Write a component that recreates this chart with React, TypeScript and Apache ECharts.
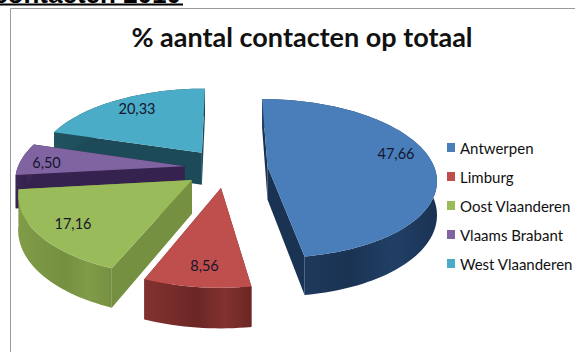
import React, { useEffect, useRef } from "react";
import * as echarts from "echarts";

const titleText = "% aantal contacten op totaal";
const captionText = "contacten 2010";
const categories = ["Antwerpen", "Limburg", "Oost Vlaanderen", "Vlaams Brabant", "West Vlaanderen"];
const values = [47.66, 8.56, 17.16, 6.5, 20.33];
const topColors = ["#4a7ebb", "#bf4f4c", "#9abb59", "#8064a2", "#4aacc6"];
const sideDark = ["#1a3353", "#6b2725", "#759040", "#36224f", "#1c4a58"];
const sideLight = ["#213f66", "#823230", "#809c48", "#3c2855", "#205260"];
const drawLayer = [6, 5, 4, 3, 2];
const labelPos = [[396, 153], [204.5, 265], [73, 223], [46.5, 162], [137, 108]];

const cx = 226, cy = 168, rx = 167, ry = 78, persp = 0.15, depth = 33, explode = 0.25;
const total = values.reduce((a, b) => a + b, 0);
const starts = values.map((_, i) => values.slice(0, i).reduce((a, b) => a + b, 0));

function project(X: number, Y: number, drop: number) {
  const s = 1 / (1 + persp * Y);
  return [cx + rx * X * s, cy - ry * Y * s + drop * s];
}

function renderSlice(i: number) {
  const a0 = (starts[i] / total) * Math.PI * 2;
  const a1 = ((starts[i] + values[i]) / total) * Math.PI * 2;
  const mid = (a0 + a1) / 2;
  const ox = Math.sin(mid) * explode;
  const oy = Math.cos(mid) * explode;
  const n = Math.max(4, Math.ceil((a1 - a0) / 0.03));
  const arc = (drop: number) => {
    const pts: number[][] = [];
    for (let k = 0; k <= n; k++) {
      const a = a0 + ((a1 - a0) * k) / n;
      pts.push(project(ox + Math.sin(a), oy + Math.cos(a), drop));
    }
    return pts;
  };
  const apexTop = project(ox, oy, 0);
  const apexBot = project(ox, oy, depth);
  const topArc = arc(0);
  const botArc = arc(depth);
  const flat = sideDark[i];
  const sideFill = new echarts.graphic.LinearGradient(0, 0, 1, 0, [
    { offset: 0, color: sideLight[i] },
    { offset: 0.5, color: sideDark[i] },
    { offset: 0.75, color: sideLight[i] },
    { offset: 1, color: sideDark[i] },
  ]);
  const poly = (points: number[][], fill: any) => ({
    type: "polygon",
    shape: { points },
    style: { fill, stroke: "none" },
  });
  return {
    type: "group",
    children: [
      poly([apexTop, topArc[0], botArc[0], apexBot], flat),
      poly([apexTop, topArc[n], botArc[n], apexBot], flat),
      poly([...topArc, ...botArc.slice().reverse()], sideFill),
      poly([apexTop, ...topArc], topColors[i]),
    ],
  };
}

export default function App() {
  const ref = useRef<HTMLDivElement>(null);
  useEffect(() => {
    document.body.style.margin = "0";
    document.body.style.background = "#fff";
    const chart = echarts.init(ref.current!, null, { renderer: "svg" });
    chart.setOption({
      animation: false,
      backgroundColor: "#fff",
      title: {
        text: titleText,
        left: 297,
        top: 18,
        textAlign: "center",
        textStyle: { fontFamily: "Lato", fontWeight: "bold", fontSize: 27, color: "#111" },
      },
      legend: {
        data: categories,
        orient: "vertical",
        left: 442,
        top: 135,
        itemWidth: 8,
        itemHeight: 9,
        itemGap: 14,
        icon: "rect",
        textStyle: { fontFamily: "Lato", fontSize: 15, color: "#111" },
      },
      graphic: [
        { type: "rect", shape: { x: 10.5, y: 8.5, width: 570, height: 350 }, style: { fill: "none", stroke: "#9a9a9a", lineWidth: 1 }, silent: true },
        { type: "text", x: 181, y: 6.5, style: { text: captionText, fontFamily: "Liberation Sans", fontWeight: "bold", fontSize: 26, fill: "#000", align: "right", verticalAlign: "bottom" }, silent: true },
        { type: "rect", shape: { x: 0, y: 3.5, width: 183, height: 2 }, style: { fill: "#000" }, silent: true },
      ],
      series: [
        ...categories.map((name, i) => ({
          type: "custom",
          name,
          coordinateSystem: "none",
          z: drawLayer[i],
          silent: true,
          itemStyle: { color: topColors[i] },
          data: [[values[i]]],
          renderItem: () => renderSlice(i),
        })),
        {
          type: "custom",
          name: "labels",
          coordinateSystem: "none",
          z: 10,
          silent: true,
          data: values.map((v) => [v]),
          renderItem: (p: any, api: any) => ({
            type: "text",
            x: labelPos[p.dataIndex][0],
            y: labelPos[p.dataIndex][1],
            style: {
              text: api.value(0).toFixed(2).replace(".", ","),
              fontFamily: "Lato",
              fontSize: 14.5,
              fill: "#15152e",
              align: "center",
              verticalAlign: "middle",
            },
          }),
        },
      ],
    });
    return () => chart.dispose();
  }, []);
  return <div ref={ref} style={{ width: 575, height: 352 }} />;
}
